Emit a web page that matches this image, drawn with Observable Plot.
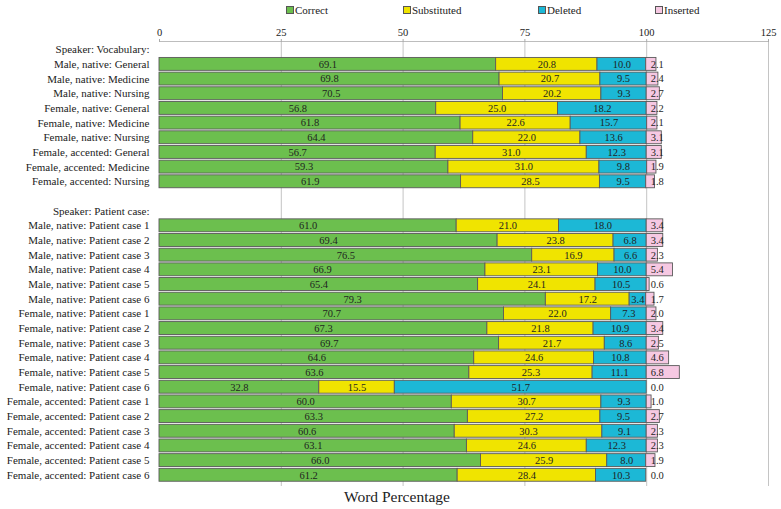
<!DOCTYPE html>
<html><head><meta charset="utf-8">
<script src="https://cdn.jsdelivr.net/npm/d3@7"></script>
<script src="https://cdn.jsdelivr.net/npm/@observablehq/plot@0.6"></script>
<style>
body{margin:0;background:#fff;font-family:'Liberation Serif','Times New Roman',serif;}
#wrap{position:relative;width:781px;height:509px;overflow:hidden;}
#legend{position:relative;height:20px;font-size:11px;color:#222;}
.item{position:absolute;top:4px;display:flex;align-items:center;line-height:12px;}
.sw{width:6px;height:6px;border:1px solid #555;margin-right:1px;}
#xlabel{position:absolute;top:486px;left:297px;width:200px;text-align:center;font-size:15.5px;line-height:22px;color:#222;}
</style>
</head><body>
<div id="wrap">
<div id="legend"></div>
<div id="chart"></div>
<div id="xlabel">Word Percentage</div>
</div>
<script>
const series = ["Correct", "Substituted", "Deleted", "Inserted"];
const colors = ["#6cbf4e", "#f0e400", "#1cb8d6", "#f6c8e2"];
const xTicks = [0, 25, 50, 75, 100, 125];

const groupHeaders = ["Speaker: Vocabulary:", "Speaker: Patient case:"];

const vocabLabels = [
  "Male, native: General", "Male, native: Medicine", "Male, native: Nursing",
  "Female, native: General", "Female, native: Medicine", "Female, native: Nursing",
  "Female, accented: General", "Female, accented: Medicine", "Female, accented: Nursing"
];
const caseLabels = [
  "Male, native: Patient case 1", "Male, native: Patient case 2", "Male, native: Patient case 3",
  "Male, native: Patient case 4", "Male, native: Patient case 5", "Male, native: Patient case 6",
  "Female, native: Patient case 1", "Female, native: Patient case 2", "Female, native: Patient case 3",
  "Female, native: Patient case 4", "Female, native: Patient case 5", "Female, native: Patient case 6",
  "Female, accented: Patient case 1", "Female, accented: Patient case 2", "Female, accented: Patient case 3",
  "Female, accented: Patient case 4", "Female, accented: Patient case 5", "Female, accented: Patient case 6"
];

// values in the order: vocabLabels then caseLabels
const correct = [69.1, 69.8, 70.5, 56.8, 61.8, 64.4, 56.7, 59.3, 61.9,
  61.0, 69.4, 76.5, 66.9, 65.4, 79.3, 70.7, 67.3, 69.7, 64.6, 63.6, 32.8, 60.0, 63.3, 60.6, 63.1, 66.0, 61.2];
const substituted = [20.8, 20.7, 20.2, 25.0, 22.6, 22.0, 31.0, 31.0, 28.5,
  21.0, 23.8, 16.9, 23.1, 24.1, 17.2, 22.0, 21.8, 21.7, 24.6, 25.3, 15.5, 30.7, 27.2, 30.3, 24.6, 25.9, 28.4];
const deleted = [10.0, 9.5, 9.3, 18.2, 15.7, 13.6, 12.3, 9.8, 9.5,
  18.0, 6.8, 6.6, 10.0, 10.5, 3.4, 7.3, 10.9, 8.6, 10.8, 11.1, 51.7, 9.3, 9.5, 9.1, 12.3, 8.0, 10.3];
const inserted = [2.1, 2.4, 2.7, 2.2, 2.1, 3.1, 3.1, 1.9, 1.8,
  3.4, 3.4, 2.3, 5.4, 0.6, 1.7, 2.0, 3.4, 2.5, 4.6, 6.8, 0.0, 1.0, 2.7, 2.3, 2.3, 1.9, 0.0];

const rowLabels = vocabLabels.concat(caseLabels);
const yDomain = [groupHeaders[0], ...vocabLabels, "", groupHeaders[1], ...caseLabels];
const valueArrays = [correct, substituted, deleted, inserted];

const tidy = [];
rowLabels.forEach((r, i) => {
  series.forEach((s, j) => tidy.push({row: r, series: s, value: valueArrays[j][i]}));
});

// legend
const legendX = [286, 403, 538, 655];
const legend = document.getElementById("legend");
series.forEach((s, i) => {
  const it = document.createElement("div");
  it.className = "item";
  it.style.left = legendX[i] + "px";
  it.innerHTML = `<span class="sw" style="background:${colors[i]}"></span><span>${s}</span>`;
  legend.appendChild(it);
});

const barData = tidy.filter(d => d.value > 0);
const inside = tidy.filter(d => d.series !== "Inserted");
const ins = tidy.filter(d => d.series === "Inserted");
const FONT = "'Liberation Serif', 'Times New Roman', serif";

const chart = Plot.plot({
  width: 781,
  height: 466,
  marginLeft: 159,
  marginRight: 13,
  marginTop: 21,
  marginBottom: 3,
  style: {fontFamily: FONT, fontSize: "10.5px", color: "#222", background: "#fff"},
  x: {domain: [0, 125], ticks: xTicks},
  y: {domain: yDomain, padding: 0.12, round: false},
  color: {domain: series, range: colors},
  marks: [
    Plot.ruleX(xTicks.filter(t => t > 0), {stroke: "#c4c4c4", strokeWidth: 1, strokeOpacity: 1, insetBottom: -3}),
    Plot.frame({anchor: "top", stroke: "#bdbdbd"}),
    Plot.axisX({anchor: "top", ticks: xTicks, tickSize: 3, tickPadding: 3, fontSize: 10.5, fontFamily: FONT, stroke: "#aaa", label: null}),
    Plot.axisY({tickSize: 0, tickPadding: 10, fontSize: 11, fontFamily: FONT, label: null}),
    Plot.barX(barData, {
      y: "row", x: "value", fill: "series", order: series,
      stroke: "#5a5a5a", strokeWidth: 0.9
    }),
    Plot.text(inside, Plot.stackX({
      y: "row", x: "value", z: "series", order: series,
      text: d => d.value.toFixed(1), fill: "#1f1f1f", fontSize: 10.5, fontFamily: FONT
    })),
    Plot.text(ins, {
      y: "row", x: 100, dx: 4, textAnchor: "start",
      text: d => d.value.toFixed(1), fill: "#1f1f1f", fontSize: 10.5, fontFamily: FONT
    })
  ]
});
document.getElementById("chart").appendChild(chart);
</script>
</body></html>
